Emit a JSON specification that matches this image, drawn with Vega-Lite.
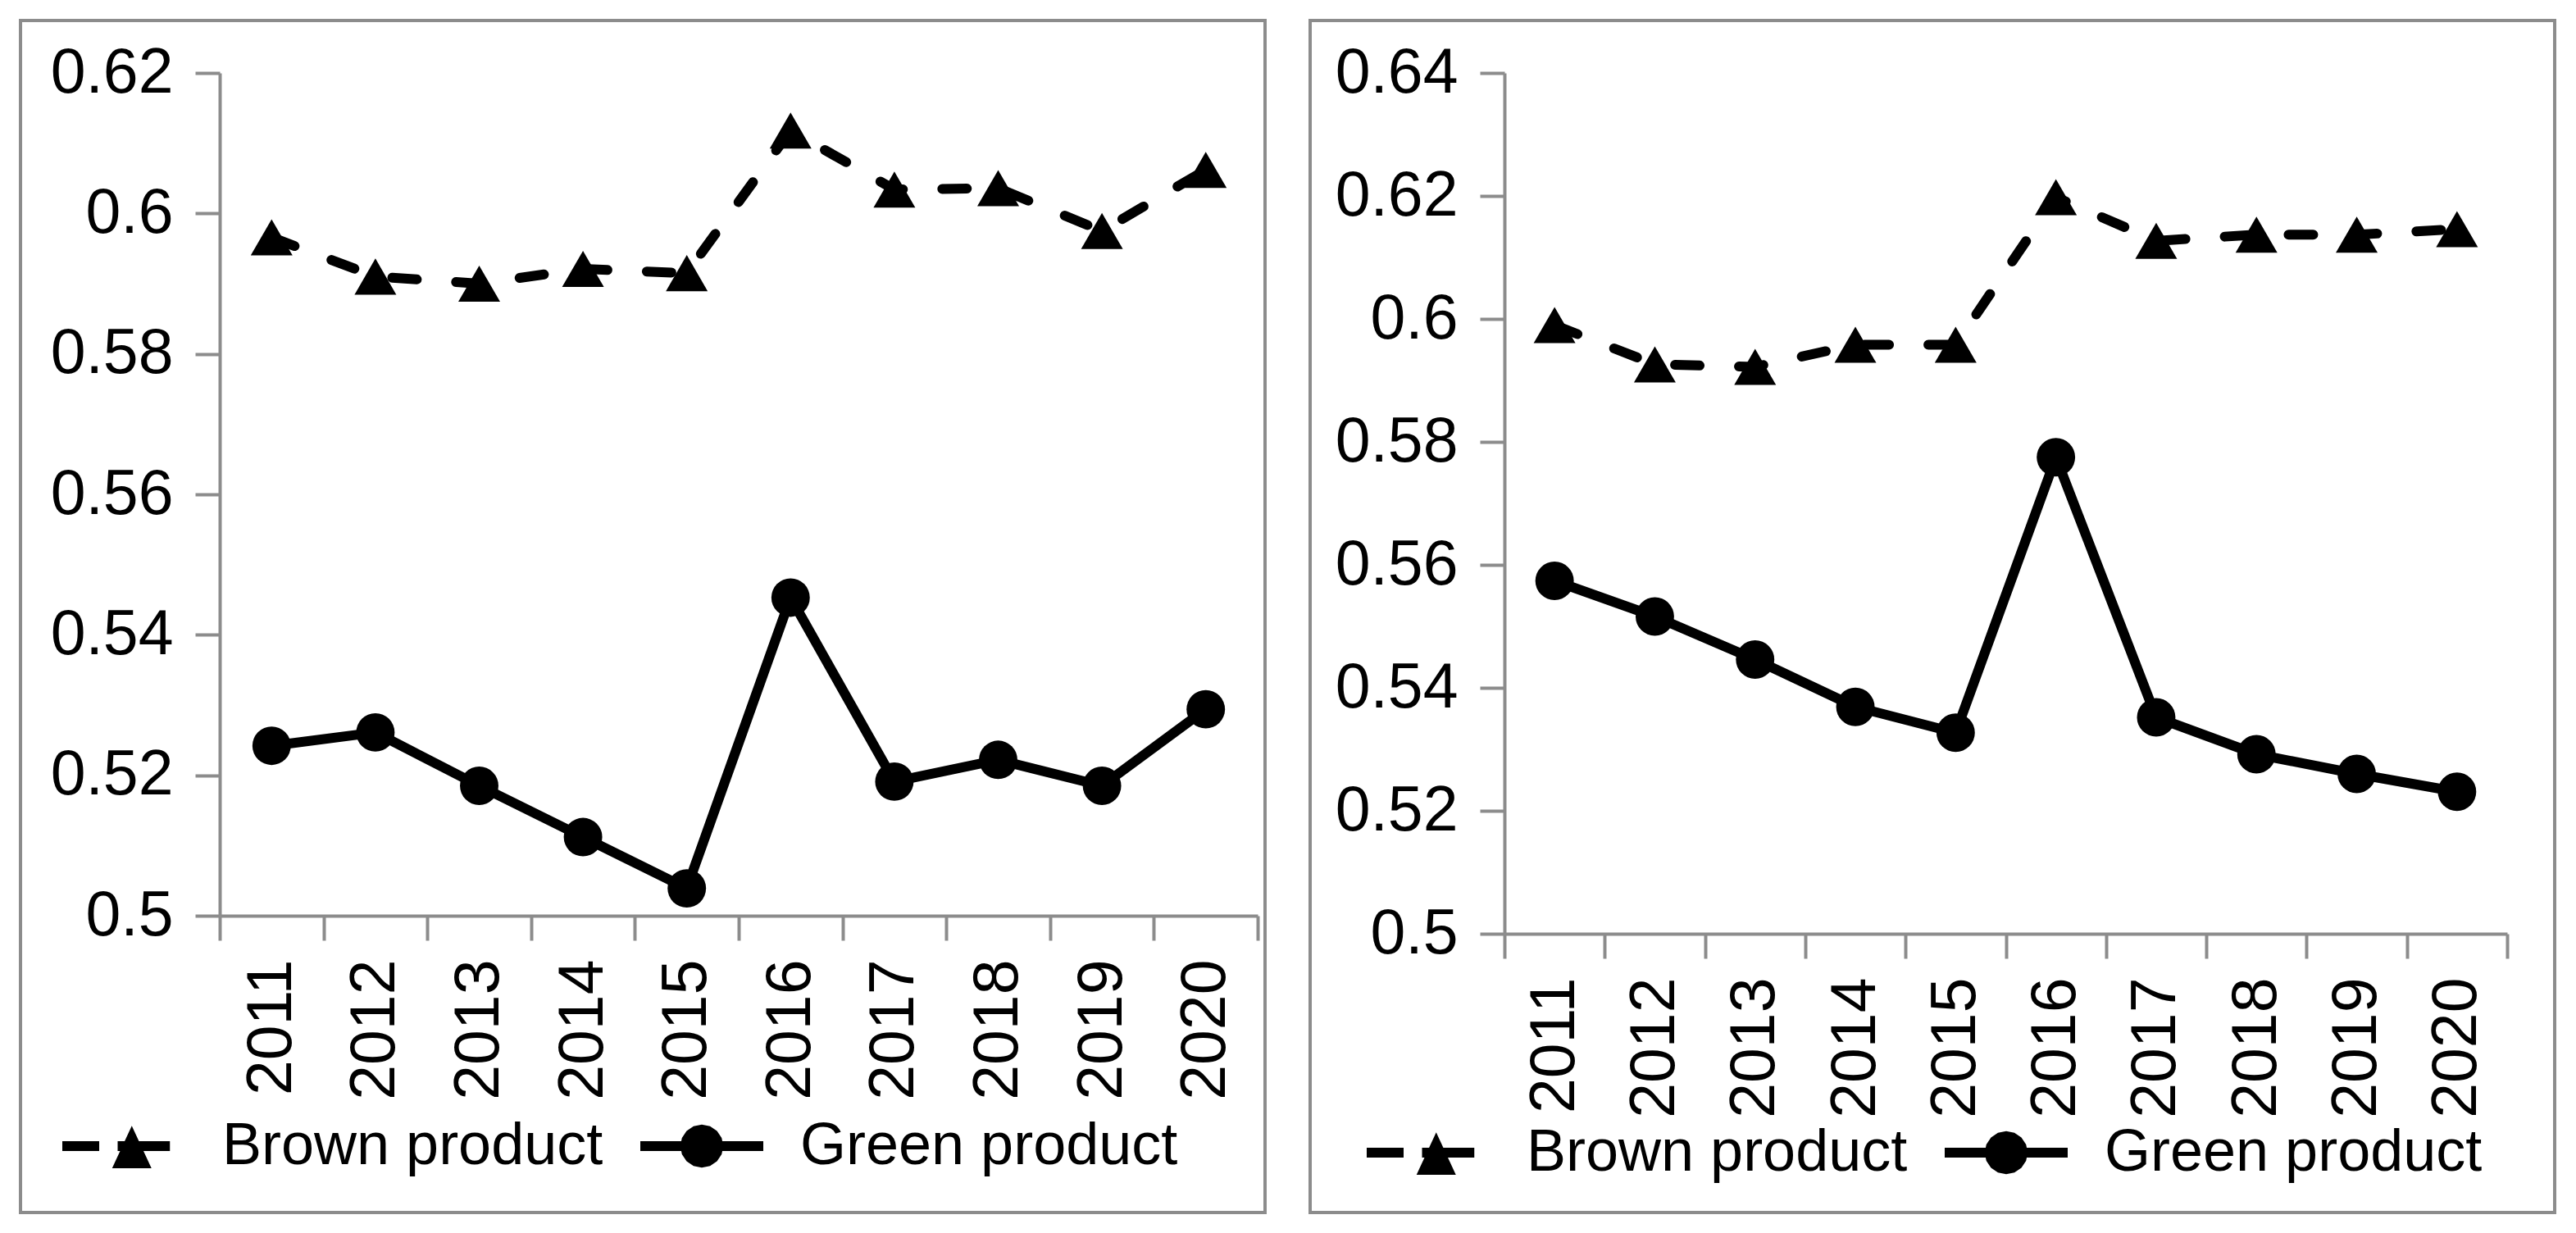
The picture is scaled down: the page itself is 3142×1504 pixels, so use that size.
{
  "$schema": "https://vega.github.io/schema/vega-lite/v6.json",
  "background": "white",
  "padding": {"left": -16, "top": 23, "right": 0, "bottom": 0},
  "spacing": 55,
  "bounds": "flush",
  "datasets": {
    "left": [
      {"year": "2011", "series": "Brown product", "value": 0.5966},
      {"year": "2012", "series": "Brown product", "value": 0.591},
      {"year": "2013", "series": "Brown product", "value": 0.59},
      {"year": "2014", "series": "Brown product", "value": 0.5921},
      {"year": "2015", "series": "Brown product", "value": 0.5915},
      {"year": "2016", "series": "Brown product", "value": 0.6118},
      {"year": "2017", "series": "Brown product", "value": 0.6034},
      {"year": "2018", "series": "Brown product", "value": 0.6036},
      {"year": "2019", "series": "Brown product", "value": 0.5975},
      {"year": "2020", "series": "Brown product", "value": 0.6062},
      {"year": "2011", "series": "Green product", "value": 0.5242},
      {"year": "2012", "series": "Green product", "value": 0.5261},
      {"year": "2013", "series": "Green product", "value": 0.5185},
      {"year": "2014", "series": "Green product", "value": 0.5112},
      {"year": "2015", "series": "Green product", "value": 0.5039},
      {"year": "2016", "series": "Green product", "value": 0.5453},
      {"year": "2017", "series": "Green product", "value": 0.5191},
      {"year": "2018", "series": "Green product", "value": 0.5222},
      {"year": "2019", "series": "Green product", "value": 0.5185},
      {"year": "2020", "series": "Green product", "value": 0.5294}
    ],
    "right": [
      {"year": "2011", "series": "Brown product", "value": 0.599},
      {"year": "2012", "series": "Brown product", "value": 0.5926},
      {"year": "2013", "series": "Brown product", "value": 0.5922},
      {"year": "2014", "series": "Brown product", "value": 0.5958},
      {"year": "2015", "series": "Brown product", "value": 0.5958},
      {"year": "2016", "series": "Brown product", "value": 0.6198},
      {"year": "2017", "series": "Brown product", "value": 0.6127},
      {"year": "2018", "series": "Brown product", "value": 0.6137},
      {"year": "2019", "series": "Brown product", "value": 0.6137},
      {"year": "2020", "series": "Brown product", "value": 0.6146},
      {"year": "2011", "series": "Green product", "value": 0.5574},
      {"year": "2012", "series": "Green product", "value": 0.5516},
      {"year": "2013", "series": "Green product", "value": 0.5446},
      {"year": "2014", "series": "Green product", "value": 0.5369},
      {"year": "2015", "series": "Green product", "value": 0.5327},
      {"year": "2016", "series": "Green product", "value": 0.5775},
      {"year": "2017", "series": "Green product", "value": 0.5352},
      {"year": "2018", "series": "Green product", "value": 0.5292},
      {"year": "2019", "series": "Green product", "value": 0.526},
      {"year": "2020", "series": "Green product", "value": 0.5231}
    ]
  },
  "hconcat": [
    {
      "width": 1518,
      "height": 1454,
      "data": {"name": "left"},
      "encoding": {
        "x": {
          "field": "year",
          "type": "ordinal",
          "scale": {"type": "band", "range": [243, 1509], "paddingInner": 0, "paddingOuter": 0},
          "axis": {"title": null, "labelAngle": -90, "tickBand": "extent", "offset": -362, "tickSize": 30, "labelPadding": 23, "labelOverlap": false}
        },
        "y": {
          "field": "value",
          "type": "quantitative",
          "scale": {"domain": [0.5, 0.62], "range": [1092, 64], "zero": false, "nice": false},
          "axis": {"title": null, "values": [0.5, 0.52, 0.54, 0.56, 0.58, 0.6, 0.62], "format": "~g", "offset": -243, "tickSize": 30, "labelPadding": 27, "labelFlush": false, "labelOverlap": false}
        }
      },
      "layer": [
        {
          "transform": [{"filter": "datum.series === 'Brown product'"}],
          "mark": {"type": "line", "color": "black", "strokeWidth": 12, "strokeCap": "round", "strokeJoin": "round", "strokeDash": [30, 48]}
        },
        {
          "transform": [{"filter": "datum.series === 'Green product'"}],
          "mark": {"type": "line", "color": "black", "strokeWidth": 12, "strokeCap": "round", "strokeJoin": "round"}
        },
        {
          "transform": [{"filter": "datum.series === 'Brown product'"}],
          "mark": {"type": "point", "shape": "triangle-up", "filled": true, "color": "black", "size": 2600, "opacity": 1}
        },
        {
          "transform": [{"filter": "datum.series === 'Green product'"}],
          "mark": {"type": "point", "shape": "circle", "filled": true, "color": "black", "size": 2200, "opacity": 1}
        },
        {
          "mark": {"type": "point", "filled": true, "fill": "black", "size": 22500, "opacity": 0},
          "encoding": {
            "shape": {
              "field": "series",
              "type": "nominal",
              "scale": {
                "domain": ["Brown product", "Green product"],
                "range": [
                  "M-1,-0.08H-0.4V0.08H-1ZM-0.1,-0.08H0.75V0.08H-0.1ZM-0.19,0.36L0.13,-0.33L0.45,0.36Z",
                  "M-1,-0.08H1V0.08H-1ZM0.35,0L0.323,0.134L0.247,0.247L0.134,0.323L0,0.35L-0.134,0.323L-0.247,0.247L-0.323,0.134L-0.35,0L-0.323,-0.134L-0.247,-0.247L-0.134,-0.323L0,-0.35L0.134,-0.323L0.247,-0.247L0.323,-0.134Z"
                ]
              },
              "legend": {
                "orient": "none", "legendX": 51, "legendY": 1298, "direction": "horizontal", "title": null,
                "labelFont": "Liberation Sans", "labelFontSize": 72, "labelColor": "black", "labelOffset": 45, "labelLimit": 1000,
                "columnPadding": 45, "symbolSize": 22500, "symbolFillColor": "black", "symbolStrokeWidth": 0,
                "symbolOpacity": 1, "padding": 0
              }
            }
          }
        }
      ]
    },
    {
      "width": 1518,
      "height": 1454,
      "data": {"name": "right"},
      "encoding": {
        "x": {
          "field": "year",
          "type": "ordinal",
          "scale": {"type": "band", "range": [237, 1460], "paddingInner": 0, "paddingOuter": 0},
          "axis": {"title": null, "labelAngle": -90, "tickBand": "extent", "offset": -340, "tickSize": 30, "labelPadding": 23, "labelOverlap": false}
        },
        "y": {
          "field": "value",
          "type": "quantitative",
          "scale": {"domain": [0.5, 0.64], "range": [1114, 64], "zero": false, "nice": false},
          "axis": {"title": null, "values": [0.5, 0.52, 0.54, 0.56, 0.58, 0.6, 0.62, 0.64], "format": "~g", "offset": -237, "tickSize": 30, "labelPadding": 27, "labelFlush": false, "labelOverlap": false}
        }
      },
      "layer": [
        {
          "transform": [{"filter": "datum.series === 'Brown product'"}],
          "mark": {"type": "line", "color": "black", "strokeWidth": 12, "strokeCap": "round", "strokeJoin": "round", "strokeDash": [30, 48]}
        },
        {
          "transform": [{"filter": "datum.series === 'Green product'"}],
          "mark": {"type": "line", "color": "black", "strokeWidth": 12, "strokeCap": "round", "strokeJoin": "round"}
        },
        {
          "transform": [{"filter": "datum.series === 'Brown product'"}],
          "mark": {"type": "point", "shape": "triangle-up", "filled": true, "color": "black", "size": 2600, "opacity": 1}
        },
        {
          "transform": [{"filter": "datum.series === 'Green product'"}],
          "mark": {"type": "point", "shape": "circle", "filled": true, "color": "black", "size": 2200, "opacity": 1}
        },
        {
          "mark": {"type": "point", "filled": true, "fill": "black", "size": 22500, "opacity": 0},
          "encoding": {
            "shape": {
              "field": "series",
              "type": "nominal",
              "scale": {
                "domain": ["Brown product", "Green product"],
                "range": [
                  "M-1,-0.08H-0.4V0.08H-1ZM-0.1,-0.08H0.75V0.08H-0.1ZM-0.19,0.36L0.13,-0.33L0.45,0.36Z",
                  "M-1,-0.08H1V0.08H-1ZM0.35,0L0.323,0.134L0.247,0.247L0.134,0.323L0,0.35L-0.134,0.323L-0.247,0.247L-0.323,0.134L-0.35,0L-0.323,-0.134L-0.247,-0.247L-0.134,-0.323L0,-0.35L0.134,-0.323L0.247,-0.247L0.323,-0.134Z"
                ]
              },
              "legend": {
                "orient": "none", "legendX": 69, "legendY": 1306, "direction": "horizontal", "title": null,
                "labelFont": "Liberation Sans", "labelFontSize": 72, "labelColor": "black", "labelOffset": 45, "labelLimit": 1000,
                "columnPadding": 45, "symbolSize": 22500, "symbolFillColor": "black", "symbolStrokeWidth": 0,
                "symbolOpacity": 1, "padding": 0
              }
            }
          }
        }
      ]
    }
  ],
  "resolve": {
    "scale": {"x": "independent", "y": "independent", "shape": "independent"},
    "legend": {"shape": "independent"}
  },
  "config": {
    "view": {"stroke": "#8c8c8c", "strokeWidth": 4},
    "axis": {
      "domainColor": "#8c8c8c", "tickColor": "#8c8c8c", "domainWidth": 4, "tickWidth": 4,
      "labelColor": "black", "labelFont": "Liberation Sans", "labelFontSize": 77, "grid": false
    },
    "legend": {"labelFont": "Liberation Sans"}
  }
}
